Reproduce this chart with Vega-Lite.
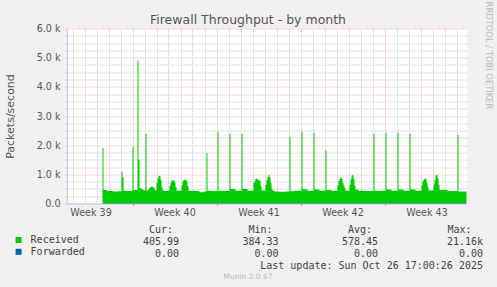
{
  "$schema": "https://vega.github.io/schema/vega-lite/v6.json",
  "background": "#f0f0f0",
  "padding": {"left": 4, "top": 0.5, "right": 5, "bottom": 10.5},
  "bounds": "flush",
  "spacing": 26,
  "title": {"text": "Firewall Throughput - by month", "font": "DejaVu Sans", "fontSize": 12.5, "fontWeight": "normal", "color": "#555", "anchor": "middle", "frame": "bounds", "baseline": "middle", "offset": -31},
  "config": {"font": "DejaVu Sans", "view": {"stroke": null}},
  "resolve": {"legend": {"color": "independent"}},
  "datasets": {
    "received": [
      {"t": "2025-09-26T12:00Z", "v": 1900},
      {"t": "2025-09-26T14:00Z", "v": 460},
      {"t": "2025-09-26T20:00Z", "v": 440},
      {"t": "2025-09-27T02:00Z", "v": 430},
      {"t": "2025-09-27T10:00Z", "v": 410},
      {"t": "2025-09-27T18:00Z", "v": 420},
      {"t": "2025-09-28T02:00Z", "v": 1090},
      {"t": "2025-09-28T04:00Z", "v": 900},
      {"t": "2025-09-28T06:00Z", "v": 440},
      {"t": "2025-09-28T14:00Z", "v": 430},
      {"t": "2025-09-28T22:00Z", "v": 440},
      {"t": "2025-09-29T00:00Z", "v": 1950},
      {"t": "2025-09-29T02:00Z", "v": 460},
      {"t": "2025-09-29T10:00Z", "v": 4900},
      {"t": "2025-09-29T12:00Z", "v": 1500},
      {"t": "2025-09-29T14:00Z", "v": 520},
      {"t": "2025-09-29T18:00Z", "v": 480},
      {"t": "2025-09-29T22:00Z", "v": 450},
      {"t": "2025-09-30T02:00Z", "v": 2400},
      {"t": "2025-09-30T04:00Z", "v": 450},
      {"t": "2025-09-30T08:00Z", "v": 500},
      {"t": "2025-09-30T10:00Z", "v": 540},
      {"t": "2025-09-30T12:00Z", "v": 570},
      {"t": "2025-09-30T14:00Z", "v": 590},
      {"t": "2025-09-30T16:00Z", "v": 560},
      {"t": "2025-09-30T18:00Z", "v": 520},
      {"t": "2025-09-30T20:00Z", "v": 470},
      {"t": "2025-09-30T22:00Z", "v": 440},
      {"t": "2025-10-01T00:00Z", "v": 700},
      {"t": "2025-10-01T02:00Z", "v": 860},
      {"t": "2025-10-01T04:00Z", "v": 940},
      {"t": "2025-10-01T06:00Z", "v": 950},
      {"t": "2025-10-01T08:00Z", "v": 800},
      {"t": "2025-10-01T10:00Z", "v": 560},
      {"t": "2025-10-01T12:00Z", "v": 460},
      {"t": "2025-10-01T14:00Z", "v": 430},
      {"t": "2025-10-02T00:00Z", "v": 450},
      {"t": "2025-10-02T02:00Z", "v": 600},
      {"t": "2025-10-02T04:00Z", "v": 720},
      {"t": "2025-10-02T06:00Z", "v": 800},
      {"t": "2025-10-02T08:00Z", "v": 770},
      {"t": "2025-10-02T10:00Z", "v": 800},
      {"t": "2025-10-02T12:00Z", "v": 720},
      {"t": "2025-10-02T14:00Z", "v": 560},
      {"t": "2025-10-02T16:00Z", "v": 440},
      {"t": "2025-10-03T00:00Z", "v": 440},
      {"t": "2025-10-03T02:00Z", "v": 620},
      {"t": "2025-10-03T04:00Z", "v": 760},
      {"t": "2025-10-03T06:00Z", "v": 810},
      {"t": "2025-10-03T08:00Z", "v": 820},
      {"t": "2025-10-03T10:00Z", "v": 790},
      {"t": "2025-10-03T12:00Z", "v": 760},
      {"t": "2025-10-03T14:00Z", "v": 600},
      {"t": "2025-10-03T16:00Z", "v": 440},
      {"t": "2025-10-04T04:00Z", "v": 430},
      {"t": "2025-10-04T14:00Z", "v": 390},
      {"t": "2025-10-04T22:00Z", "v": 410},
      {"t": "2025-10-05T04:00Z", "v": 1720},
      {"t": "2025-10-05T06:00Z", "v": 440},
      {"t": "2025-10-05T16:00Z", "v": 430},
      {"t": "2025-10-06T02:00Z", "v": 2460},
      {"t": "2025-10-06T04:00Z", "v": 440},
      {"t": "2025-10-06T18:00Z", "v": 430},
      {"t": "2025-10-07T02:00Z", "v": 2400},
      {"t": "2025-10-07T04:00Z", "v": 500},
      {"t": "2025-10-07T14:00Z", "v": 440},
      {"t": "2025-10-08T02:00Z", "v": 2400},
      {"t": "2025-10-08T04:00Z", "v": 500},
      {"t": "2025-10-08T14:00Z", "v": 440},
      {"t": "2025-10-09T02:00Z", "v": 700},
      {"t": "2025-10-09T04:00Z", "v": 760},
      {"t": "2025-10-09T06:00Z", "v": 840},
      {"t": "2025-10-09T08:00Z", "v": 860},
      {"t": "2025-10-09T10:00Z", "v": 820},
      {"t": "2025-10-09T12:00Z", "v": 780},
      {"t": "2025-10-09T14:00Z", "v": 800},
      {"t": "2025-10-09T16:00Z", "v": 600},
      {"t": "2025-10-09T18:00Z", "v": 450},
      {"t": "2025-10-10T02:00Z", "v": 640},
      {"t": "2025-10-10T04:00Z", "v": 800},
      {"t": "2025-10-10T06:00Z", "v": 920},
      {"t": "2025-10-10T08:00Z", "v": 980},
      {"t": "2025-10-10T10:00Z", "v": 900},
      {"t": "2025-10-10T12:00Z", "v": 700},
      {"t": "2025-10-10T14:00Z", "v": 500},
      {"t": "2025-10-10T16:00Z", "v": 440},
      {"t": "2025-10-10T20:00Z", "v": 410},
      {"t": "2025-10-11T04:00Z", "v": 400},
      {"t": "2025-10-11T18:00Z", "v": 410},
      {"t": "2025-10-12T02:00Z", "v": 2290},
      {"t": "2025-10-12T04:00Z", "v": 420},
      {"t": "2025-10-12T12:00Z", "v": 440},
      {"t": "2025-10-13T02:00Z", "v": 2460},
      {"t": "2025-10-13T04:00Z", "v": 490},
      {"t": "2025-10-13T14:00Z", "v": 440},
      {"t": "2025-10-14T02:00Z", "v": 2430},
      {"t": "2025-10-14T04:00Z", "v": 480},
      {"t": "2025-10-14T14:00Z", "v": 440},
      {"t": "2025-10-15T02:00Z", "v": 1830},
      {"t": "2025-10-15T04:00Z", "v": 460},
      {"t": "2025-10-15T14:00Z", "v": 440},
      {"t": "2025-10-16T02:00Z", "v": 620},
      {"t": "2025-10-16T04:00Z", "v": 780},
      {"t": "2025-10-16T06:00Z", "v": 860},
      {"t": "2025-10-16T08:00Z", "v": 900},
      {"t": "2025-10-16T10:00Z", "v": 840},
      {"t": "2025-10-16T12:00Z", "v": 700},
      {"t": "2025-10-16T14:00Z", "v": 620},
      {"t": "2025-10-16T16:00Z", "v": 520},
      {"t": "2025-10-16T18:00Z", "v": 440},
      {"t": "2025-10-17T02:00Z", "v": 640},
      {"t": "2025-10-17T04:00Z", "v": 820},
      {"t": "2025-10-17T06:00Z", "v": 960},
      {"t": "2025-10-17T08:00Z", "v": 980},
      {"t": "2025-10-17T10:00Z", "v": 820},
      {"t": "2025-10-17T12:00Z", "v": 600},
      {"t": "2025-10-17T14:00Z", "v": 480},
      {"t": "2025-10-17T20:00Z", "v": 440},
      {"t": "2025-10-18T08:00Z", "v": 430},
      {"t": "2025-10-19T02:00Z", "v": 2400},
      {"t": "2025-10-19T04:00Z", "v": 440},
      {"t": "2025-10-20T02:00Z", "v": 2430},
      {"t": "2025-10-20T04:00Z", "v": 480},
      {"t": "2025-10-20T14:00Z", "v": 440},
      {"t": "2025-10-21T02:00Z", "v": 2430},
      {"t": "2025-10-21T04:00Z", "v": 480},
      {"t": "2025-10-21T14:00Z", "v": 440},
      {"t": "2025-10-22T02:00Z", "v": 2400},
      {"t": "2025-10-22T04:00Z", "v": 480},
      {"t": "2025-10-22T14:00Z", "v": 440},
      {"t": "2025-10-23T02:00Z", "v": 620},
      {"t": "2025-10-23T04:00Z", "v": 760},
      {"t": "2025-10-23T06:00Z", "v": 820},
      {"t": "2025-10-23T08:00Z", "v": 860},
      {"t": "2025-10-23T10:00Z", "v": 840},
      {"t": "2025-10-23T12:00Z", "v": 700},
      {"t": "2025-10-23T14:00Z", "v": 560},
      {"t": "2025-10-23T16:00Z", "v": 450},
      {"t": "2025-10-24T02:00Z", "v": 640},
      {"t": "2025-10-24T04:00Z", "v": 800},
      {"t": "2025-10-24T06:00Z", "v": 960},
      {"t": "2025-10-24T08:00Z", "v": 980},
      {"t": "2025-10-24T10:00Z", "v": 860},
      {"t": "2025-10-24T12:00Z", "v": 640},
      {"t": "2025-10-24T14:00Z", "v": 460},
      {"t": "2025-10-25T06:00Z", "v": 430},
      {"t": "2025-10-26T02:00Z", "v": 2350},
      {"t": "2025-10-26T04:00Z", "v": 410},
      {"t": "2025-10-26T20:00Z", "v": 406}
    ],
    "forwarded": [
      {"t": "2025-09-26T12:00Z", "v": 0},
      {"t": "2025-10-26T20:00Z", "v": 0}
    ],
    "table": [
      {"row": "hdr", "stat": "Cur", "text": "Cur:"},
      {"row": "hdr", "stat": "Min", "text": "Min:"},
      {"row": "hdr", "stat": "Avg", "text": "Avg:"},
      {"row": "hdr", "stat": "Max", "text": "Max:"},
      {"row": "Received", "stat": "Cur", "text": "405.99"},
      {"row": "Received", "stat": "Min", "text": "384.33"},
      {"row": "Received", "stat": "Avg", "text": "578.45"},
      {"row": "Received", "stat": "Max", "text": "21.16k"},
      {"row": "Forwarded", "stat": "Cur", "text": "0.00"},
      {"row": "Forwarded", "stat": "Min", "text": "0.00"},
      {"row": "Forwarded", "stat": "Avg", "text": "0.00"},
      {"row": "Forwarded", "stat": "Max", "text": "0.00"},
      {"row": "upd", "stat": "Max", "text": "Last update: Sun Oct 26 17:00:26 2025"}
    ]
  },
  "vconcat": [
    {
      "width": 400,
      "height": 175,
      "view": {"fill": "white", "stroke": null},
      "resolve": {"axis": {"y": "independent"}},
      "layer": [
        {
          "data": {"name": "forwarded"},
          "mark": {"type": "line", "interpolate": "step-after", "clip": true, "strokeWidth": 1},
          "encoding": {
            "x": {
              "field": "t", "type": "temporal",
              "scale": {"type": "utc", "domain": [{"year": 2025, "month": 9, "date": 23, "hours": 13, "utc": true}, {"year": 2025, "month": 10, "date": 26, "hours": 21, "utc": true}]},
              "axis": {
                "orient": "bottom",
                "title": null,
                "tickCount": {"interval": "day", "step": 1},
                "grid": true,
                "gridColor": {"condition": {"test": "utcday(datum.value) === 1", "value": "#f3b0b0"}, "value": "#c4c4c4"},
                "gridDash": [1, 1],
                "tickSize": 2,
                "tickColor": {"condition": {"test": "utcday(datum.value) === 1", "value": "#e88080"}, "value": "transparent"},
                "labelExpr": "utcday(datum.value) === 4 ? 'Week ' + utcFormat(datum.value, '%V') : ''",
                "labelOffset": 6,
                "labelFlush": false,
                "labelOverlap": false,
                "labelPadding": 2,
                "labelFont": "DejaVu Sans",
                "labelFontSize": 9.6,
                "labelColor": "#555",
                "domainColor": "#ccccf0"
              }
            },
            "y": {
              "field": "v", "type": "quantitative",
              "scale": {"domain": [0, 6000], "nice": false},
              "axis": {
                "orient": "right",
                "title": "RRDTOOL / TOBI OETIKER",
                "titleFont": "DejaVu Sans",
                "titleFontSize": 8.4,
                "titleFontWeight": "normal",
                "titleColor": "#bbbbbb",
                "titleAngle": 90,
                "titleX": 21,
                "titleY": 26.5,
                "titleAlign": "center",
                "titleBaseline": "middle",
                "labels": false,
                "ticks": false,
                "domain": false,
                "grid": false
              }
            },
            "color": {
              "datum": "Forwarded",
              "scale": {"domain": ["Received", "Forwarded"], "range": ["#00cc00", "#0066b3"]},
              "legend": {
                "title": null,
                "orient": "none",
                "legendX": -53.4,
                "legendY": 206.5,
                "direction": "vertical",
                "padding": 0,
                "symbolType": "square",
                "symbolSize": 36,
                "symbolStrokeWidth": 0,
                "labelFont": "DejaVu Sans Mono",
                "labelFontSize": 10,
                "labelColor": "#444",
                "labelOffset": 7,
                "rowPadding": 1.8,
                "encode": {"symbols": {"update": {"fill": {"scale": "color", "field": "value"}, "stroke": {"value": "transparent"}, "opacity": {"value": 1}}}}
              }
            }
          }
        },
        {
          "data": {"name": "received"},
          "mark": {"type": "area", "interpolate": "step-after", "clip": true},
          "encoding": {
            "x": {"field": "t", "type": "temporal"},
            "y": {
              "field": "v", "type": "quantitative",
              "axis": {
                "orient": "left",
                "values": [0, 250, 500, 750, 1000, 1250, 1500, 1750, 2000, 2250, 2500, 2750, 3000, 3250, 3500, 3750, 4000, 4250, 4500, 4750, 5000, 5250, 5500, 5750, 6000],
                "title": "Packets/second",
                "titleFont": "DejaVu Sans",
                "titleFontSize": 11,
                "titleFontWeight": "normal",
                "titleColor": "#555",
                "titleAngle": -90,
                "titleX": -57,
                "titleY": 87.5,
                "titleAlign": "center",
                "titleBaseline": "middle",
                "labelExpr": "datum.value % 1000 !== 0 ? '' : (datum.value === 0 ? '0.0' : format(datum.value / 1000, '.1f') + ' k')",
                "labelFont": "DejaVu Sans",
                "labelFontSize": 9.6,
                "labelColor": "#555",
                "labelPadding": 5,
                "labelOverlap": false,
                "labelFlush": false,
                "tickSize": 2,
                "tickColor": {"condition": {"test": "datum.value % 1000 === 0", "value": "#f3b0b0"}, "value": "#c4c4c4"},
                "grid": true,
                "gridColor": {"condition": {"test": "datum.value % 1000 === 0", "value": "#f3b0b0"}, "value": "#c4c4c4"},
                "gridDash": [1, 1],
                "domainColor": "#ccccf0"
              }
            },
            "color": {"datum": "Received"}
          }
        }
      ]
    },
    {
      "width": 362,
      "height": 36,
      "data": {"name": "table"},
      "title": {"text": "Munin 2.0.67", "orient": "bottom", "font": "DejaVu Sans", "fontSize": 7.5, "fontWeight": "normal", "color": "#bbbbbb", "anchor": "middle", "baseline": "middle", "offset": 6},
      "encoding": {
        "x": {"field": "stat", "type": "nominal", "scale": {"type": "point", "domain": ["Cur", "Min", "Avg", "Max"], "range": [112, 410.5], "padding": 0}, "axis": null},
        "y": {"field": "row", "type": "nominal", "scale": {"type": "point", "domain": ["hdr", "Received", "Forwarded", "upd"], "range": [0, 36], "padding": 0}, "axis": null},
        "text": {"field": "text", "type": "nominal"}
      },
      "layer": [
        {
          "transform": [{"filter": "datum.row === 'hdr'"}],
          "mark": {"type": "text", "align": "right", "baseline": "middle", "dx": -6, "font": "DejaVu Sans Mono", "fontSize": 10, "color": "#444"}
        },
        {
          "transform": [{"filter": "datum.row !== 'hdr' && datum.stat !== 'Max'"}],
          "mark": {"type": "text", "align": "right", "baseline": "middle", "font": "DejaVu Sans Mono", "fontSize": 10, "color": "#444"}
        },
        {
          "transform": [{"filter": "datum.row !== 'hdr' && datum.stat === 'Max'"}],
          "mark": {"type": "text", "align": "right", "baseline": "middle", "dx": 5.5, "font": "DejaVu Sans Mono", "fontSize": 10, "color": "#444"}
        }
      ]
    }
  ]
}
